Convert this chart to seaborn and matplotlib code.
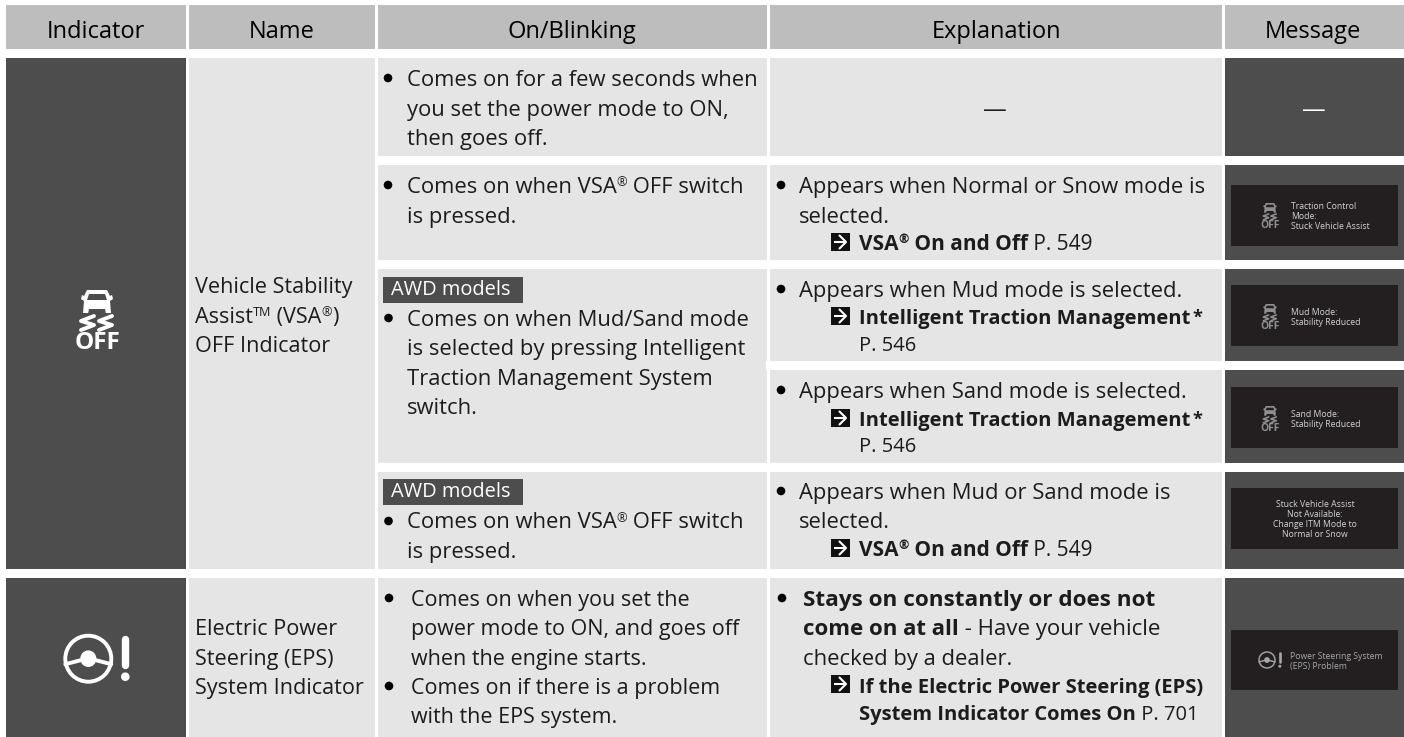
import numpy as np
import matplotlib
matplotlib.use("Agg")
import matplotlib.pyplot as plt
from matplotlib.colors import ListedColormap
from matplotlib.patches import Polygon, Circle, Ellipse, Rectangle
import seaborn as sns

# table text
headers = ["Indicator", "Name", "On/Blinking", "Explanation", "Message"]
name_vsa = [["Vehicle Stability"], ["Assist", ("TM", "sup"), " (VSA", ("®", "sup"), ")"], ["OFF Indicator"]]
name_eps = ["Electric Power", "Steering (EPS)", "System Indicator"]
badge_text = "AWD models"

on_row1 = ["Comes on for a few seconds when", "you set the power mode to ON,", "then goes off."]
on_row2 = [["Comes on when VSA", ("®", "sup"), " OFF switch"], ["is pressed."]]
on_row3 = ["Comes on when Mud/Sand mode", "is selected by pressing Intelligent", "Traction Management System", "switch."]
on_row4 = [["Comes on when VSA", ("®", "sup"), " OFF switch"], ["is pressed."]]
on_row5a = ["Comes on when you set the", "power mode to ON, and goes off", "when the engine starts."]
on_row5b = ["Comes on if there is a problem", "with the EPS system."]

ex_row2 = ["Appears when Normal or Snow mode is", "selected."]
ex_row3a = ["Appears when Mud mode is selected."]
ex_row3b = ["Appears when Sand mode is selected."]
ex_row4 = ["Appears when Mud or Sand mode is", "selected."]
ex_row5 = ["Stays on constantly or does not", "come on at all", " - Have your vehicle", "checked by a dealer."]
ref_vsa = [("VSA", "b"), ("®", "bsup"), (" On and Off", "b"), (" P. 549", "r")]
ref_itm = [("Intelligent Traction Management", "b"), ("*", "bstar")]
ref_itm_page = "P. 546"
ref_eps = ["If the Electric Power Steering (EPS)", "System Indicator Comes On", " P. 701"]

screen_stuck = ["Traction Control", "Mode:", "Stuck Vehicle Assist"]
screen_mud = ["Mud Mode:", "Stability Reduced"]
screen_sand = ["Sand Mode:", "Stability Reduced"]
screen_itm = ["Stuck Vehicle Assist", "Not Available:", "Change ITM Mode to", "Normal or Snow"]
screen_eps = ["Power Steering System", "(EPS) Problem"]

# shades used by the cells
WHITE, HEADER, DARK, LIGHT, SCREEN = 0, 1, 2, 3, 4
shades = ["#ffffff", "#bdbdbd", "#4d4d4d", "#e5e5e5", "#231f20"]
col_x = [(6, 186), (189, 375), (378, 767), (770, 1222), (1225, 1404)]
head_x = [96, 282, 572, 996, 1313]

FONT = "Open Sans"
SIZE = 15.8
NAME = 15.6
REF = 14.5
INK = "#1c1c1c"

sns.set_theme(style="white")
plt.rcParams["font.family"] = [FONT, "DejaVu Sans"]

# page as a matrix, one entry per pixel
page = np.zeros((737, 1404), dtype=int)


def fill(x0, x1, y0, y1, shade):
    page[y0:y1, x0:x1] = shade


for x0, x1 in col_x:
    fill(x0, x1, 5, 49, HEADER)
for i, (x0, x1) in enumerate(col_x):
    shade = DARK if i in (0, 4) else LIGHT
    if i in (0, 1):
        spans = [(58, 569), (578, 737)]
    elif i == 2:
        spans = [(58, 156), (165, 260), (269, 463), (472, 569), (578, 737)]
    else:
        spans = [(58, 156), (165, 260), (269, 361), (370, 463), (472, 569), (578, 737)]
    for y0, y1 in spans:
        fill(x0, x1, y0, y1, shade)
fill(766, 767, 361, 370, WHITE)
for y0, y1 in [(185, 246), (285, 346), (387, 448), (488, 549), (630, 690)]:
    fill(1231, 1398, y0, y1, SCREEN)

fig = plt.figure(figsize=(14.04, 7.37), dpi=100)
ax = fig.add_axes([0, 0, 1, 1])
sns.heatmap(page, ax=ax, cmap=ListedColormap(shades), vmin=0, vmax=4, cbar=False,
            xticklabels=False, yticklabels=False, rasterized=True)
ax.set_xlim(0, 1404)
ax.set_ylim(737, 0)
ax.axis("off")
renderer = fig.canvas.get_renderer()


# width of a string, spaces included
def width(s, **kw):
    a = ax.text(0, 0, s + ".", **kw)
    b = ax.text(0, 0, ".", **kw)
    w = a.get_window_extent(renderer).width - b.get_window_extent(renderer).width
    a.remove()
    b.remove()
    return w


# a line built from several styled runs
def runs(x, y, parts, size=SIZE, color=INK):
    for part in parts:
        s, kind = (part, "r") if isinstance(part, str) else part
        kw = dict(fontsize=size, fontweight="normal", color=color, family=[FONT, "DejaVu Sans"])
        rise = 0
        if kind == "b":
            kw["fontweight"] = "bold"
        elif kind == "sup":
            kw["fontsize"] = size * 0.58
            rise = 6.5
        elif kind == "bsup":
            kw["fontsize"] = size * 0.6
            kw["fontweight"] = "bold"
            rise = 7
        elif kind == "bstar":
            kw["fontsize"] = size * 0.9
            kw["fontweight"] = "bold"
            rise = 1
            x += 2
        ax.text(x, y - rise, s, va="baseline", ha="left", **kw)
        x += width(s, **kw)
    return x


def lines(x, y, rows, step=29.5, size=SIZE, color=INK):
    for i, row in enumerate(rows):
        runs(x, y + i * step, [row] if isinstance(row, str) else row, size, color)


def bullet(x, y):
    ax.add_patch(Circle((x, y), 4.3, color="black", lw=0))


def arrow(x, y):
    ax.add_patch(Rectangle((x, y), 18.5, 18, color="#111111", lw=0))
    ax.plot([x + 2.5, x + 13.5], [y + 9, y + 9], color="white", lw=1.5, solid_capstyle="butt")
    ax.plot([x + 8.5, x + 15, x + 8.5], [y + 2.5, y + 9, y + 15.5], color="white", lw=1.5)


def badge(x, y, w=140, h=26):
    ax.add_patch(Rectangle((x, y), w, h, color="#4d4d4d", lw=0))
    ax.text(x + 8, y + 18, badge_text, color="white", fontsize=14.4, va="baseline")


def car_icon(cx, top, k, color):
    body = [(-10, 0), (10, 0), (13, 6), (15, 5), (16, 9), (13, 11), (14, 23), (-14, 23), (-13, 11), (-16, 9), (-15, 5), (-13, 6)]
    ax.add_patch(Polygon([(cx + a * k, top + b * k) for a, b in body], color=color, lw=0))
    bg = "#4d4d4d" if k > 0.7 else "#231f20"
    ax.add_patch(Polygon([(cx + a * k, top + b * k) for a, b in [(-8, 4), (8, 4), (10, 10), (-10, 10)]], color=bg, lw=0))
    ax.add_patch(Polygon([(cx + a * k, top + b * k) for a, b in [(-8, 19), (8, 19), (9, 24), (-9, 24)]], color=bg, lw=0))
    for off in (-9, 9):
        xs = np.array([6, -7, 6, -7]) * k + cx + off * k
        ys = np.array([26, 31, 35, 40]) * k + top
        ax.plot(xs, ys, color=color, lw=2.8 * k, solid_joinstyle="round", solid_capstyle="round")
    ax.text(cx, top + 59 * k, "OFF", color=color, fontweight="bold", fontsize=17.5 * k,
            ha="center", va="baseline")


def wheel_icon(cx, cy, r, color, lw):
    ax.add_patch(Circle((cx, cy), r, fill=False, edgecolor=color, lw=lw))
    ax.add_patch(Ellipse((cx, cy), r * 0.7, r * 0.72, color=color, lw=0))
    ax.plot([cx - r, cx], [cy + r * 0.24, cy - r * 0.02], color=color, lw=lw)
    ax.plot([cx + r, cx], [cy + r * 0.24, cy - r * 0.02], color=color, lw=lw)
    k = r / 23.0
    ex = cx + 37 * k
    ax.plot([ex, ex], [cy - 20 * k, cy + 6 * k], color=color, lw=lw * 1.9, solid_capstyle="round")
    ax.add_patch(Circle((ex, cy + 18 * k), 4.3 * k, color=color, lw=0))


# header row
for hx, label in zip(head_x, headers):
    ax.text(hx, 37.5, label, ha="center", va="baseline", fontsize=17, color="black")

# indicator and name columns
car_icon(97, 290, 1.0, "white")
wheel_icon(88.3, 658.7, 23, "white", 2.8)
lines(195, 293, name_vsa, size=NAME)
lines(195, 635, name_eps, size=NAME)

# on/blinking column
bullet(388, 78)
lines(407, 86, on_row1)
bullet(388, 185)
lines(407, 193, on_row2)
badge(383, 277)
bullet(388.5, 318)
lines(407, 325.5, on_row3)
badge(383, 479)
bullet(388.5, 521)
lines(407, 528.5, on_row4)
bullet(389, 598)
lines(411, 606, on_row5a, size=15.5)
bullet(389, 686)
lines(411, 694, on_row5b, size=15.5)

# explanation column
ax.text(995, 117, "—", ha="center", va="baseline", fontsize=17, color=INK)
bullet(781, 185)
lines(799, 193, ex_row2)
arrow(831, 233)
runs(859, 250, ref_vsa, size=15)
bullet(781, 289)
lines(799, 297, ex_row3a)
arrow(831, 307)
runs(859, 324, ref_itm, size=REF)
lines(859, 351, [ref_itm_page], size=REF)
bullet(781, 390)
lines(799, 398, ex_row3b)
arrow(831, 409)
runs(859, 426, ref_itm, size=REF)
lines(859, 452, [ref_itm_page], size=REF)
bullet(781, 491)
lines(799, 499, ex_row4)
arrow(831, 539)
runs(859, 556, ref_vsa, size=15)
bullet(782, 598)
runs(803, 606, [(ex_row5[0], "b")], size=16.2)
runs(803, 635, [(ex_row5[1], "b"), ex_row5[2]], size=16)
runs(803, 665, [ex_row5[3]])
arrow(831, 675)
runs(859, 693, [(ref_eps[0], "b")], size=REF)
runs(859, 720, [(ref_eps[1], "b"), ref_eps[2]], size=REF)

# message column
ax.text(1314, 117, "—", ha="center", va="baseline", fontsize=17, color="white")
SCREEN_TXT = "#d4d4d4"
SMALL = 6.2
car_icon(1270, 203, 0.42, "#8f8f8f")
lines(1291, 209, screen_stuck, step=10, size=SMALL, color=SCREEN_TXT)
car_icon(1270, 304, 0.42, "#8f8f8f")
lines(1291, 315, screen_mud, step=10, size=SMALL, color=SCREEN_TXT)
car_icon(1270, 406, 0.42, "#8f8f8f")
lines(1291, 417, screen_sand, step=10, size=SMALL, color=SCREEN_TXT)
for i, row in enumerate(screen_itm):
    ax.text(1315, 507 + i * 10, row, ha="center", va="baseline", fontsize=SMALL, color=SCREEN_TXT)
wheel_icon(1267, 660, 8, "#a8a8a8", 1.0)
lines(1290, 659, screen_eps, step=10, size=SMALL, color="#a8a8a8")

fig.savefig("out.png", dpi=100)
